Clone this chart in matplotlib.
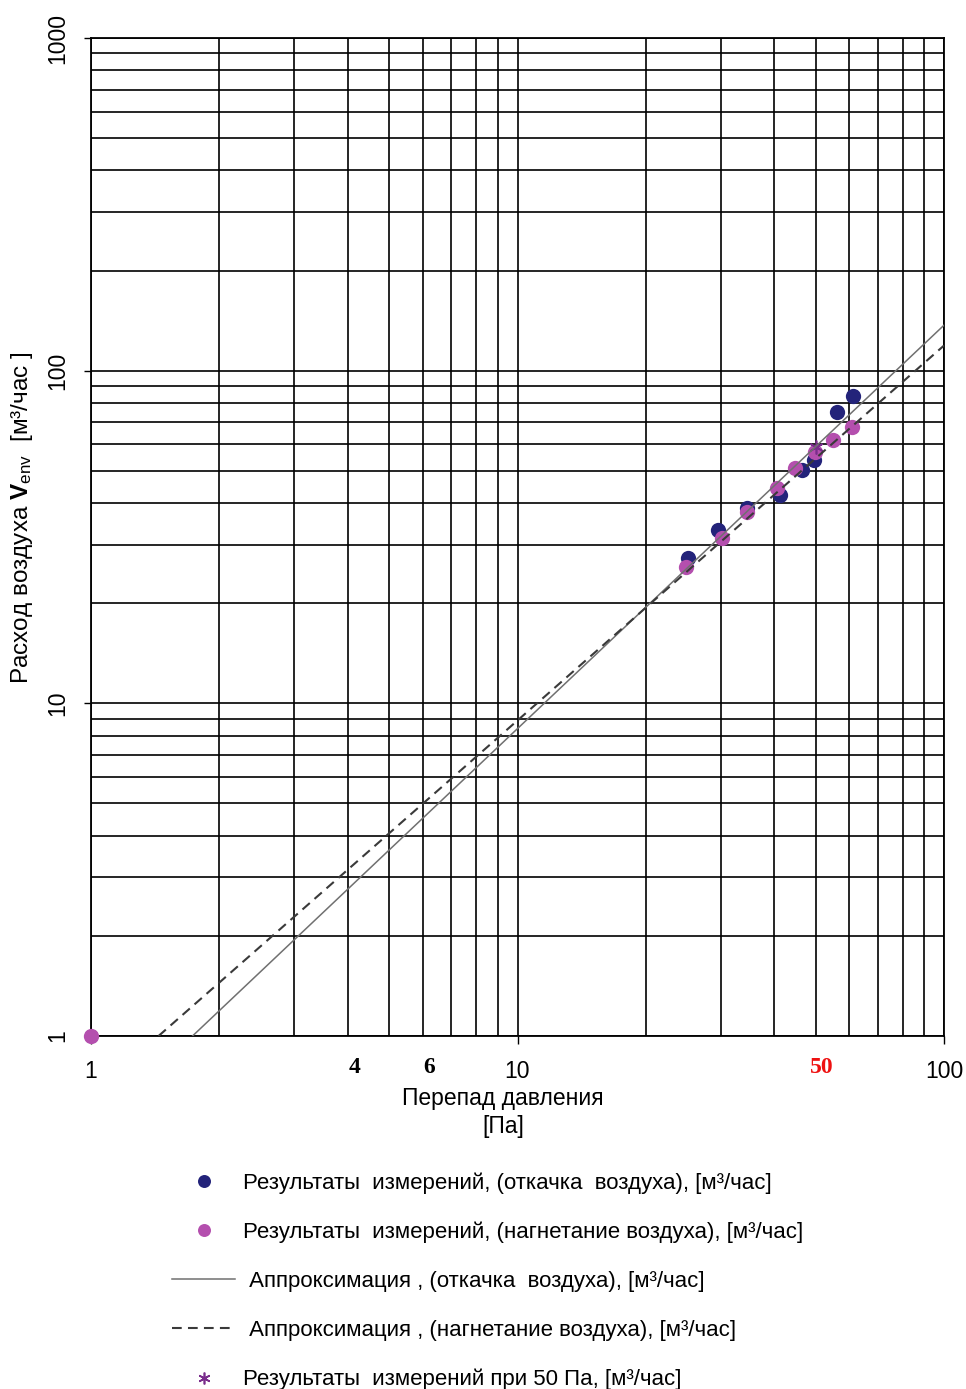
import matplotlib
matplotlib.use("Agg")
import matplotlib.pyplot as plt
from matplotlib.ticker import FixedLocator, NullFormatter

plt.rcParams['font.family'] = ['Liberation Sans', 'DejaVu Sans']
plt.rcParams['mathtext.fontset'] = 'custom'
plt.rcParams['mathtext.rm'] = 'Liberation Sans'
plt.rcParams['mathtext.bf'] = 'Liberation Sans:bold'
plt.rcParams['mathtext.it'] = 'Liberation Sans:italic'
plt.rcParams['lines.scale_dashes'] = False

# ---- data ----
out_x = [25.1, 29.5, 34.5, 41.3, 46.4, 49.6, 56.1, 61.2]
out_y = [27.3, 33.2, 38.6, 42.3, 50.3, 53.9, 75.1, 83.9]
in_x = [1.0, 24.8, 30.2, 34.5, 40.6, 44.8, 49.9, 55.0, 60.9]
in_y = [1.0, 25.7, 31.4, 37.6, 44.4, 51.0, 56.9, 61.9, 67.7]
fit_out_x = [1.73, 100.0]
fit_out_y = [1.0, 137.0]
fit_in_x = [1.44, 100.0]
fit_in_y = [1.0, 119.0]
p50_x = [50.0]
p50_y = [59.0]

x_major = [1, 10, 100]
x_major_labels = ['1', '10', '100']
x_extra = [4, 6, 50]
x_extra_labels = ['4', '6', '50']
y_major = [1, 10, 100, 1000]
y_major_labels = ['1', '10', '100', '1000']
minor_vals = [2, 3, 4, 5, 6, 7, 8, 9, 20, 30, 40, 50, 60, 70, 80, 90,
              200, 300, 400, 500, 600, 700, 800, 900]

labels = ['Результаты  измерений, (откачка  воздуха), [м³/час]',
          'Результаты  измерений, (нагнетание воздуха), [м³/час]',
          ' Аппроксимация , (откачка  воздуха), [м³/час]',
          ' Аппроксимация , (нагнетание воздуха), [м³/час]',
          'Результаты  измерений при 50 Па, [м³/час]']

W, H = 966, 1389
fig = plt.figure(figsize=(W / 100, H / 100), dpi=100)
ax = fig.add_axes([91 / W, 1 - 1036 / H, (944 - 91) / W, (1036 - 38) / H])
ax.set_xscale('log')
ax.set_yscale('log')
ax.set_xlim(1, 100)
ax.set_ylim(1, 1000)

blue = '#23237a'
pink = '#b44fae'
h1, = ax.plot(out_x, out_y, 'o', color=blue, ms=11, mec='none', zorder=3, clip_on=False)
h2, = ax.plot(in_x, in_y, 'o', color=pink, ms=11, mec='none', zorder=4, clip_on=False)
h5, = ax.plot(p50_x, p50_y, marker=(6, 2, 0), ls='none', color='#7a2d8c', ms=10, mew=1.2, zorder=4)
h3, = ax.plot(fit_out_x, fit_out_y, '-', color='#707070', lw=1.1, zorder=5)
h4, = ax.plot(fit_in_x, fit_in_y, color='#3a3a3a', lw=1.5, dashes=(7, 4.5), zorder=5)

# grid
ax.xaxis.set_major_locator(FixedLocator(x_major))
ax.yaxis.set_major_locator(FixedLocator(y_major))
ax.xaxis.set_minor_locator(FixedLocator(minor_vals))
ax.yaxis.set_minor_locator(FixedLocator(minor_vals))
ax.xaxis.set_minor_formatter(NullFormatter())
ax.yaxis.set_minor_formatter(NullFormatter())
ax.grid(which='both', color='black', lw=1.2)
ax.set_axisbelow(True)
for s in ax.spines.values():
    s.set_linewidth(1.3)
    s.set_color('black')

ax.set_xticklabels(x_major_labels)
ax.set_yticklabels(y_major_labels)
ax.tick_params(which='minor', length=0)
ax.tick_params(axis='x', which='major', length=6, width=1, pad=11, labelsize=16.5, colors='black')
ax.tick_params(axis='y', which='major', length=5, width=1, pad=11, labelsize=16.5, labelrotation=90)
for t in ax.get_yticklabels():
    t.set_va('center')

# extra bold labels on x axis
for v, lab in zip(x_extra, x_extra_labels):
    ax.text(v * 1.035, -0.032, lab, transform=ax.get_xaxis_transform(), ha='center', va='center',
            fontsize=17, fontweight='bold', family=['Liberation Serif', 'DejaVu Serif'],
            color='#ee1111' if lab == '50' else 'black')

# axis labels
fig.text(503 / W, 1 - 1098 / H, 'Перепад давления', ha='center', va='center', fontsize=16.5)
fig.text(503 / W, 1 - 1127 / H, '[Па]', ha='center', va='center', fontsize=16.5)
fig.text(22 / W, 1 - 518 / H, 'Расход воздуха $\\mathbf{V}_{\\mathrm{env}}$  [м³/час ]',
         rotation=90, ha='center', va='center', fontsize=17.5)

leg = fig.legend([h1, h2, h3, h4, h5], labels, loc='upper left',
                 bbox_to_anchor=(172 / W, 1 - 1172 / H), frameon=False, fontsize=16,
                 handlelength=2.84, handletextpad=0.36, labelspacing=1.26,
                 borderpad=0, borderaxespad=0, markerscale=0.85)

fig.savefig('out.png', dpi=100)
